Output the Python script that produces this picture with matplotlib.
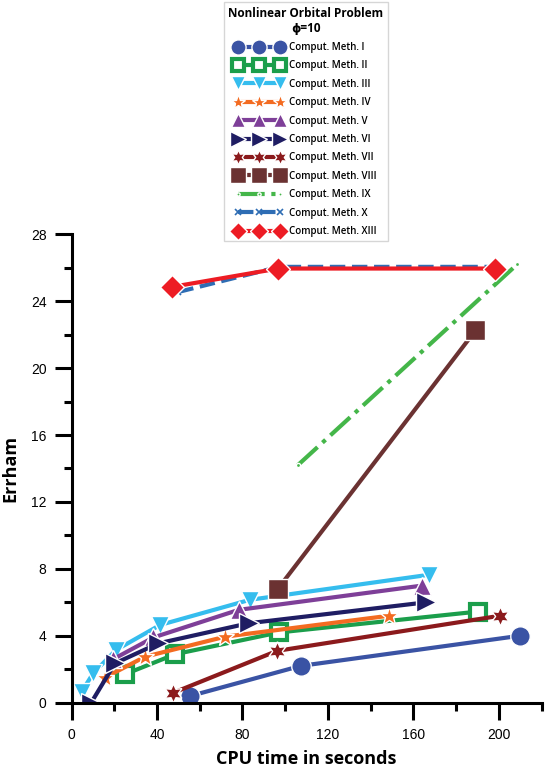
import matplotlib.pyplot as plt
from matplotlib.ticker import MultipleLocator

# CPU time (s) and Errham, one pair of lists per method
t_1 = [55.5, 107.2, 209.7]
e_1 = [0.4, 2.2, 4.0]
t_2 = [25.0, 48.5, 97.0, 190.4]
e_2 = [1.7, 2.9, 4.2, 5.45]
t_3 = [4.7, 10.1, 20.8, 41.5, 83.4, 167.4]
e_3 = [0.65, 1.75, 3.15, 4.65, 6.15, 7.65]
t_4 = [15.6, 34.4, 72.0, 148.6]
e_4 = [1.5, 2.75, 3.95, 5.2]
t_5 = [19.5, 38.3, 78.2, 164.0]
e_5 = [2.6, 3.9, 5.55, 7.0]
t_6 = [9.2, 20.3, 40.7, 82.9, 165.9]
e_6 = [0.0, 2.35, 3.55, 4.75, 6.0]
t_7 = [47.7, 96.2, 200.6]
e_7 = [0.6, 3.1, 5.2]
t_8 = [96.5, 189.0]
e_8 = [6.8, 22.25]
t_9 = [105.9, 208.5]
e_9 = [14.2, 26.2]
t_10 = [50.0, 97.0, 197.0]
e_10 = [24.55, 26.05, 26.05]
t_13 = [46.9, 96.7, 198.3]
e_13 = [24.85, 25.95, 25.95]

labels = ['Comput. Meth. I', 'Comput. Meth. II', 'Comput. Meth. III', 'Comput. Meth. IV',
          'Comput. Meth. V', 'Comput. Meth. VI', 'Comput. Meth. VII', 'Comput. Meth. VIII',
          'Comput. Meth. IX', 'Comput. Meth. X', 'Comput. Meth. XIII']

fig = plt.figure(figsize=(5.5, 7.68), dpi=100)
ax = fig.add_axes([0.130, 0.085, 0.855, 0.610])

w = dict(mec='white', mew=1.0)
ax.plot(t_1, e_1, '-', color='#3a53a4', lw=3, marker='o', ms=14, label=labels[0], **w)
ax.plot(t_2, e_2, '-', color='#1b9e4b', lw=3, marker='s', ms=11, mfc='white', mec='#1b9e4b',
        mew=3, label=labels[1])
ax.plot(t_3, e_3, '-', color='#35bdee', lw=3, marker='v', ms=13, label=labels[2], **w)
ax.plot(t_4, e_4, '-', color='#f36b21', lw=3, marker='*', ms=14, label=labels[3], **w)
ax.plot(t_5, e_5, '-', color='#7e3f98', lw=3, marker='^', ms=13, label=labels[4], **w)
ax.plot(t_6, e_6, '-', color='#1f1d63', lw=3, marker='>', ms=14, label=labels[5], **w)
ax.plot(t_7, e_7, '-', color='#8b1a1c', lw=3, marker=(6, 1, 0), ms=14, label=labels[6], **w)
ax.plot(t_8, e_8, '-', color='#6b3232', lw=3, marker='s', ms=14, label=labels[7], **w)
ax.plot(t_9, e_9, '-.', color='#44b649', lw=3, marker='o', ms=3, label=labels[8], **w)
ax.plot(t_10, e_10, '--', color='#2e6db4', lw=3, marker='x', ms=5, mew=1.2, label=labels[9])
ax.plot(t_13, e_13, '-', color='#ed1c24', lw=3, marker='D', ms=12, label=labels[10], **w)

ax.set_xlim(0, 220)
ax.set_ylim(0, 28)
ax.xaxis.set_major_locator(MultipleLocator(40))
ax.xaxis.set_minor_locator(MultipleLocator(20))
ax.yaxis.set_major_locator(MultipleLocator(4))
ax.yaxis.set_minor_locator(MultipleLocator(2))
ax.tick_params(which='major', direction='out', length=12, width=2.2, labelsize=10, pad=6)
ax.tick_params(which='minor', direction='out', length=6, width=2.2)
ax.set_xticks([0, 40, 80, 120, 160, 200])
for lbl in ax.get_xticklabels() + ax.get_yticklabels():
    lbl.set_family('Liberation Sans')
for s in ['top', 'right']:
    ax.spines[s].set_visible(False)
for s in ['left', 'bottom']:
    ax.spines[s].set_linewidth(2.2)

ax.set_xlabel('CPU time in seconds', fontsize=13, fontweight='bold', family='Open Sans', labelpad=6)
ax.set_ylabel('Errham', fontsize=13, fontweight='bold', family='Open Sans', labelpad=8)

leg = ax.legend(loc='upper left', bbox_to_anchor=(0.407, 0.997), bbox_transform=fig.transFigure,
                title='Nonlinear Orbital Problem\n\u03d5=10', numpoints=3, handlelength=5.0,
                handletextpad=0.6, labelspacing=0.76, borderpad=0.45, borderaxespad=0,
                fancybox=False, edgecolor='#cccccc', markerscale=0.78,
                prop={'family': ['Open Sans', 'DejaVu Sans'], 'weight': 'semibold', 'size': 7})
title = leg.get_title()
title.set_fontweight('bold')
title.set_fontsize(8.5)
title.set_family(['Open Sans', 'DejaVu Sans'])
title.set_multialignment('center')

fig.savefig('out.png', dpi=100)
